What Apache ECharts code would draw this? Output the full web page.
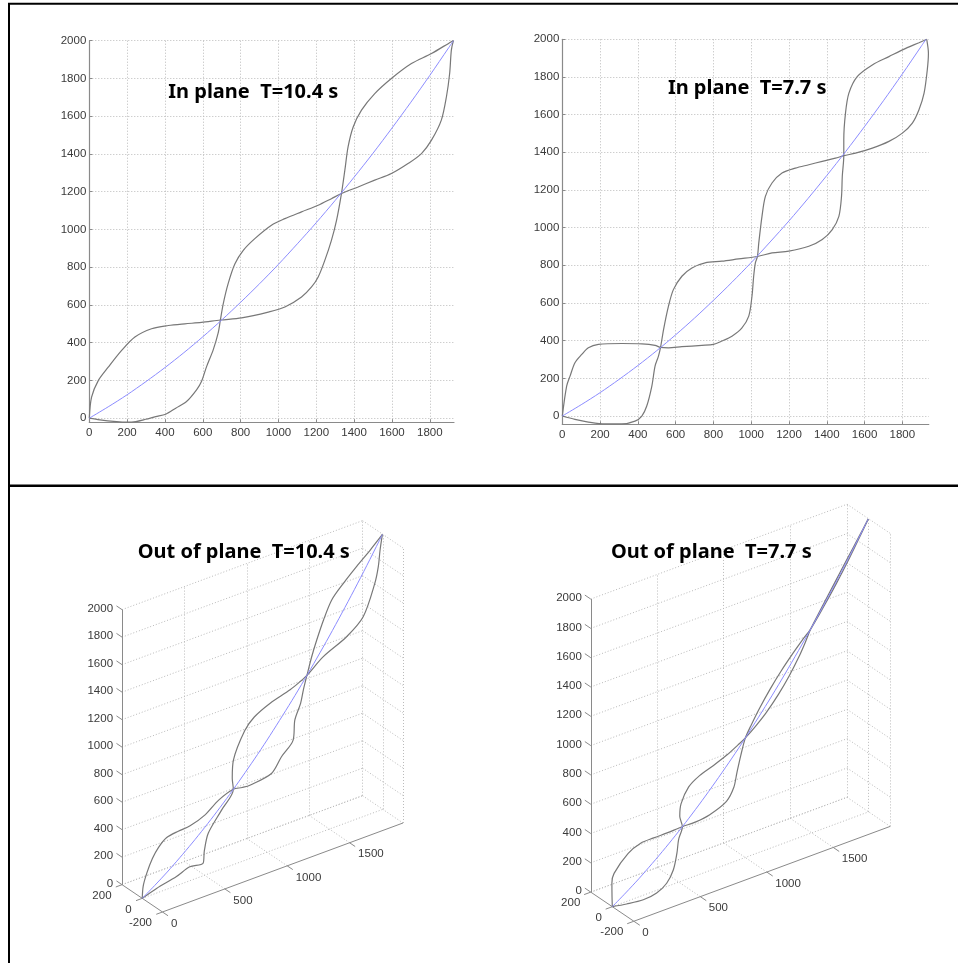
<!DOCTYPE html>
<html>
<head>
<meta charset="utf-8">
<script src="https://cdn.jsdelivr.net/npm/echarts@6.0.0/dist/echarts.min.js"></script>
<style>
  html, body { margin: 0; padding: 0; background: #ffffff; }
  #chart { width: 958px; height: 963px; }
</style>
</head>
<body>
<div id="chart"></div>
<script>
// ---- Static cable profile (horizontal x, vertical z) ----
const staticX = [0, 100, 200, 300, 400, 500, 600, 700, 800, 900, 1000, 1100, 1200, 1300, 1400, 1500, 1600, 1700, 1800, 1900, 1925];
const staticZ = [0, 60, 124, 194, 268, 347, 431, 520, 614, 712, 815, 924, 1036, 1154, 1277, 1404, 1537, 1674, 1816, 1963, 2000];

// ---- In-plane mode shapes, T = 10.4 s  [x, z] ----
const inPlane104A = [[0,0],[12,111],[48,200],[100,270],[171,359],[241,430],[329,474],[417,491],[505,500],[593,507],[693,520],
  [805,531],[946,562],[1034,589],[1122,642],[1175,695],[1210,748],[1245,836],[1280,942],[1307,1048],[1333,1190],
  [1351,1314],[1368,1437],[1395,1543],[1439,1632],[1509,1720],[1597,1800],[1703,1879],[1809,1932],[1914,1995],[1925,2000]];
const inPlane104B = [[0,0],[56,-9],[144,-18],[198,-21],[246,-18],[298,-6],[351,8],[404,21],[457,53],[514,88],[567,150],[593,194],[620,273],[655,362],[681,450],[693,520],
  [708,606],[734,713],[770,818],[814,889],[875,951],[963,1022],[1034,1057],[1122,1093],[1210,1128],[1280,1163],[1333,1190],
  [1421,1225],[1509,1261],[1597,1296],[1685,1349],[1756,1402],[1809,1473],[1861,1579],[1888,1703],[1905,1826],[1914,1950],[1925,2000]];

// ---- In-plane mode shapes, T = 7.7 s  [x, z] ----
const inPlane77A = [[0,0],[23,159],[41,212],[67,283],[103,327],[138,362],[191,380],[315,385],[421,383],[491,375],[520,364],
  [562,362],[633,368],[739,375],[800,380],[845,398],[898,424],[951,468],[987,530],[1004,636],[1013,742],[1022,813],[1033,847],
  [1040,919],[1057,1060],[1075,1166],[1110,1237],[1163,1290],[1234,1316],[1305,1334],[1376,1352],[1446,1369],[1490,1382],
  [1552,1396],[1641,1422],[1729,1458],[1800,1502],[1853,1555],[1888,1626],[1915,1714],[1932,1838],[1938,1926],[1929,2000]];
const inPlane77B = [[0,0],[67,-18],[138,-32],[226,-42],[315,-42],[385,-27],[421,0],[447,53],[474,159],[491,265],[509,318],[520,364],
  [536,459],[562,583],[588,671],[633,742],[686,786],[756,813],[845,822],[933,834],[1033,847],
  [1110,866],[1199,875],[1305,901],[1376,937],[1429,990],[1464,1060],[1478,1166],[1482,1272],[1490,1382],
  [1490,1467],[1499,1608],[1517,1714],[1561,1802],[1641,1864],[1729,1908],[1818,1952],[1888,1982],[1929,2000]];

// ---- Out-of-plane mode shapes, T = 10.4 s  [x, y, z] ----
const outPlane104A = [[0,0,0],[60,65,35],[132,118,80],[215,165,135],[283,188,182],[350,190,230],[410,150,276],[466,102,320],[553,61,391],[649,45,474],[730,0,548],
  [760,-50,576],[789,-91,603],[888,-182,700],[975,-174,789],[1062,-181,882],[1139,-104,967],[1210,-73,1048],[1262,-36,1109],[1320,0,1178],
  [1393,43,1268],[1460,75,1353],[1539,106,1455],[1621,125,1565],[1698,104,1671],[1778,71,1784],[1854,33,1894],[1925,0,2000]];
const outPlane104B = [[0,0,0],[92,-28,55],[208,-82,130],[291,-111,187],[345,-176,227],[400,-120,268],[486,-53,336],[617,-23,446],[730,0,548],
  [770,60,585],[843,138,655],[980,195,794],[1052,190,871],[1139,140,967],[1232,58,1074],[1283,22,1134],[1320,0,1178],
  [1419,-40,1301],[1535,-127,1450],[1634,-169,1583],[1762,-126,1761],[1820,-89,1845],[1874,-40,1924],[1925,0,2000]];

// ---- Out-of-plane mode shapes, T = 7.7 s  [x, y, z] ----
const outPlane77A = [[0,0,0],[44,57,26],[103,131,62],[151,170,92],[275,192,176],[351,170,231],[407,118,274],[463,63,317],[527,0,369],
  [580,-60,414],[642,-112,468],[733,-155,550],[800,-140,614],[860,-95,672],[930,-45,743],[1001,0,816],
  [1060,16,880],[1130,30,957],[1220,38,1060],[1300,37,1154],[1380,27,1252],[1440,15,1327],[1493,0,1395],
  [1580,-5,1510],[1680,-7,1646],[1780,-6,1787],[1860,-3,1903],[1925,0,2000]];
const outPlane77B = [[0,0,0],[55,-65,32],[122,-137,74],[190,-177,118],[259,-185,165],[333,-156,218],[409,-95,275],[467,-39,321],[527,0,369],
  [560,65,397],[610,115,440],[692,145,513],[760,128,576],[830,85,643],[900,45,712],[960,18,773],[1001,0,816],
  [1060,-17,880],[1130,-31,957],[1220,-38,1060],[1300,-36,1154],[1380,-27,1252],[1440,-14,1327],[1493,0,1395],
  [1580,5,1510],[1680,7,1646],[1780,6,1787],[1860,3,1903],[1925,0,2000]];

// ---- Tick values ----
const planeXTicks = [0, 200, 400, 600, 800, 1000, 1200, 1400, 1600, 1800];
const planeZTicks = [0, 200, 400, 600, 800, 1000, 1200, 1400, 1600, 1800, 2000];
const boxXTicks = [0, 500, 1000, 1500];
const boxYTicks = [-200, 0, 200];
const boxZTicks = [0, 200, 400, 600, 800, 1000, 1200, 1400, 1600, 1800, 2000];

// ---- Panel titles ----
const titles = ['In plane  T=10.4 s', 'In plane  T=7.7 s', 'Out of plane  T=10.4 s', 'Out of plane  T=7.7 s'];

// ---- Styles ----
const GRID_COLOR = '#bababa';
const AXIS_COLOR = '#8a8a8a';
const LABEL_COLOR = '#3a3a3a';
const MODE_COLOR = '#787878';
const STATIC_COLOR = '#8c8cff';
const LABEL_FONT_FAMILY = '"Liberation Sans", Arial, sans-serif';
const LABEL_SIZE = 11.5;

// Box extents of the 3D views
const BOX = { xmax: 1928, ymin: -200, ymax: 200, zmax: 2000 };
// Orthographic view (azimuth / elevation) with per-axis stretch
const VIEW = { az: 36.5 * Math.PI / 180, el: 30 * Math.PI / 180, ry: 1.095, rz: 1.023 };

function project(p) {
  const ca = Math.cos(VIEW.az), sa = Math.sin(VIEW.az);
  const se = Math.sin(VIEW.el), ce = Math.cos(VIEW.el);
  const x = p[0], y = p[1], z = p[2];
  return [x * ca - y * VIEW.ry * sa, x * sa * se + y * VIEW.ry * ca * se + z * VIEW.rz * ce];
}

function boxGridSegments() {
  const s = [];
  const { xmax, ymin, ymax, zmax } = BOX;
  boxZTicks.forEach(z => s.push([[0, ymax, z], [xmax, ymax, z]]));          // back wall, level lines
  boxXTicks.forEach(x => { if (x > 0) s.push([[x, ymax, 0], [x, ymax, zmax]]); });
  boxZTicks.forEach(z => s.push([[xmax, ymax, z], [xmax, ymin, z]]));       // side wall, level lines
  boxYTicks.forEach(y => s.push([[xmax, y, 0], [xmax, y, zmax]]));
  boxXTicks.forEach(x => { if (x > 0) s.push([[x, ymin, 0], [x, ymax, 0]]); }); // floor
  boxYTicks.forEach(y => { if (y > ymin) s.push([[0, y, 0], [xmax, y, 0]]); });
  return s;
}
function boxAxisSegments() {
  const { xmax, ymin, ymax, zmax } = BOX;
  const s = [
    [[0, ymax, 0], [0, ymax, zmax]],
    [[0, ymin, 0], [0, ymax, 0]],
    [[0, ymin, 0], [xmax, ymin, 0]]
  ];
  boxZTicks.forEach(z => s.push([[0, ymax, z], [0, ymax + 55, z]]));
  boxXTicks.forEach(x => s.push([[x, ymin, 0], [x, ymin - 55, 0]]));
  boxYTicks.forEach(y => s.push([[0, y, 0], [-50, y, 0]]));
  return s;
}
function boxLabels() {
  const { ymin, ymax } = BOX;
  const out = [];
  boxZTicks.forEach(z => out.push({ p: [0, ymax, z], text: String(z), align: 'right', dx: -9, dy: -1 }));
  boxYTicks.forEach(y => out.push({ p: [0, y, 0], text: String(y), align: 'right', dx: -10.5, dy: 11 }));
  boxXTicks.forEach(x => out.push({ p: [x, ymin, 0], text: String(x), align: 'left', dx: 8.5, dy: 11.5 }));
  return out;
}

const plainNumber = v => String(v);

function planeXAxis(gridIndex, max) {
  return {
    type: 'value', gridIndex, min: 0, max,
    axisLine: { show: true, onZero: false, lineStyle: { color: AXIS_COLOR, width: 1.2 } },
    axisTick: { show: true, inside: true, length: 3, customValues: planeXTicks, lineStyle: { color: AXIS_COLOR } },
    axisLabel: { customValues: planeXTicks, formatter: plainNumber, margin: 5, color: LABEL_COLOR, fontSize: LABEL_SIZE, fontFamily: LABEL_FONT_FAMILY },
    splitLine: { show: true, lineStyle: { color: GRID_COLOR, type: [1, 2], width: 1 } }
  };
}
function planeYAxis(gridIndex, min) {
  return {
    type: 'value', gridIndex, min, max: 2000,
    axisLine: { show: true, onZero: false, lineStyle: { color: AXIS_COLOR, width: 1.2 } },
    axisTick: { show: true, inside: true, length: 3, customValues: planeZTicks, lineStyle: { color: AXIS_COLOR } },
    axisLabel: { customValues: planeZTicks, formatter: plainNumber, margin: 3, color: LABEL_COLOR, fontSize: LABEL_SIZE, fontFamily: LABEL_FONT_FAMILY },
    splitLine: { show: true, lineStyle: { color: GRID_COLOR, type: [1, 2], width: 1 } }
  };
}
function hiddenAxis(gridIndex, min, max) {
  return { type: 'value', gridIndex, min, max, show: false, splitLine: { show: false } };
}

function curve(idx, data, color, width, z) {
  return {
    type: 'line', xAxisIndex: idx, yAxisIndex: idx, data, showSymbol: false, symbol: 'none',
    smooth: 0.3, clip: false, silent: true, z,
    lineStyle: { color, width }
  };
}
function segSeries(idx, segs, color, type, z) {
  return {
    type: 'lines', coordinateSystem: 'cartesian2d', xAxisIndex: idx, yAxisIndex: idx, silent: true, z,
    data: segs.map(s => ({ coords: [project(s[0]), project(s[1])] })),
    lineStyle: { color, width: 1, type, opacity: 1, curveness: 0 }
  };
}
function labelSeries(idx, items) {
  return {
    type: 'custom', coordinateSystem: 'cartesian2d', xAxisIndex: idx, yAxisIndex: idx, silent: true, clip: false, z: 5,
    data: items.map(it => project(it.p)),
    renderItem: function (params, api) {
      const it = items[params.dataIndex];
      const c = api.coord([api.value(0), api.value(1)]);
      return {
        type: 'text', x: c[0] + it.dx, y: c[1] + it.dy,
        style: { text: it.text, align: it.align, verticalAlign: 'middle', fill: LABEL_COLOR,
                 font: LABEL_SIZE + 'px ' + LABEL_FONT_FAMILY }
      };
    }
  };
}

const staticLine2D = staticX.map((x, i) => [x, staticZ[i]]);
const staticLine3D = staticX.map((x, i) => project([x, 0, staticZ[i]]));

const series = [];
// in-plane panels
series.push(curve(0, inPlane104A, MODE_COLOR, 1.2, 3));
series.push(curve(0, inPlane104B, MODE_COLOR, 1.2, 3));
series.push(curve(0, staticLine2D, STATIC_COLOR, 1, 4));
series.push(curve(1, inPlane77A, MODE_COLOR, 1.2, 3));
series.push(curve(1, inPlane77B, MODE_COLOR, 1.2, 3));
series.push(curve(1, staticLine2D, STATIC_COLOR, 1, 4));
// out-of-plane panels
[[2, outPlane104A, outPlane104B], [3, outPlane77A, outPlane77B]].forEach(([idx, a, b]) => {
  series.push(segSeries(idx, boxGridSegments(), GRID_COLOR, [1, 2], 1));
  series.push(segSeries(idx, boxAxisSegments(), AXIS_COLOR, 'solid', 2));
  series.push(labelSeries(idx, boxLabels()));
  series.push(curve(idx, a.map(project), MODE_COLOR, 1.2, 3));
  series.push(curve(idx, b.map(project), MODE_COLOR, 1.2, 3));
  series.push(curve(idx, staticLine3D, STATIC_COLOR, 1, 4));
});

const titleFont = 'bold 20px "Noto Sans", "Open Sans", sans-serif';
const titleSpecs = [
  { x: 253.3, y: 92.6 }, { x: 747.2, y: 88.3 }, { x: 243.8, y: 552.6 }, { x: 711.3, y: 552.3 }
];

const option = {
  animation: false,
  backgroundColor: '#ffffff',
  grid: [
    { left: 89.3, top: 40.7, width: 364.7, height: 381.6 },
    { left: 562.3, top: 39.3, width: 366.5, height: 385 },
    { left: 95.7, top: 510.3, width: 325.9, height: 434.6 },
    { left: 562.7, top: 493.2, width: 347.3, height: 463.1 }
  ],
  xAxis: [planeXAxis(0, 1928), planeXAxis(1, 1940), hiddenAxis(2, -300, 1800), hiddenAxis(3, -300, 1800)],
  yAxis: [planeYAxis(0, -22), planeYAxis(1, -44), hiddenAxis(2, -300, 2500), hiddenAxis(3, -300, 2500)],
  series,
  graphic: [
    // panel frame
    { type: 'line', shape: { x1: 8, y1: 3.8, x2: 958, y2: 3.8 }, style: { stroke: '#000', lineWidth: 2 } },
    { type: 'line', shape: { x1: 9, y1: 3, x2: 9, y2: 963 }, style: { stroke: '#000', lineWidth: 2 } },
    { type: 'line', shape: { x1: 8, y1: 485.8, x2: 958, y2: 485.8 }, style: { stroke: '#000', lineWidth: 2.6 } },
    ...titles.map((t, i) => ({
      type: 'text', x: titleSpecs[i].x, y: titleSpecs[i].y, z: 20,
      style: { text: t, font: titleFont, fill: '#000', align: 'center', verticalAlign: 'middle' }
    }))
  ]
};

const chart = echarts.init(document.getElementById('chart'), null, { renderer: 'canvas' });
chart.setOption(option);
</script>
</body>
</html>
